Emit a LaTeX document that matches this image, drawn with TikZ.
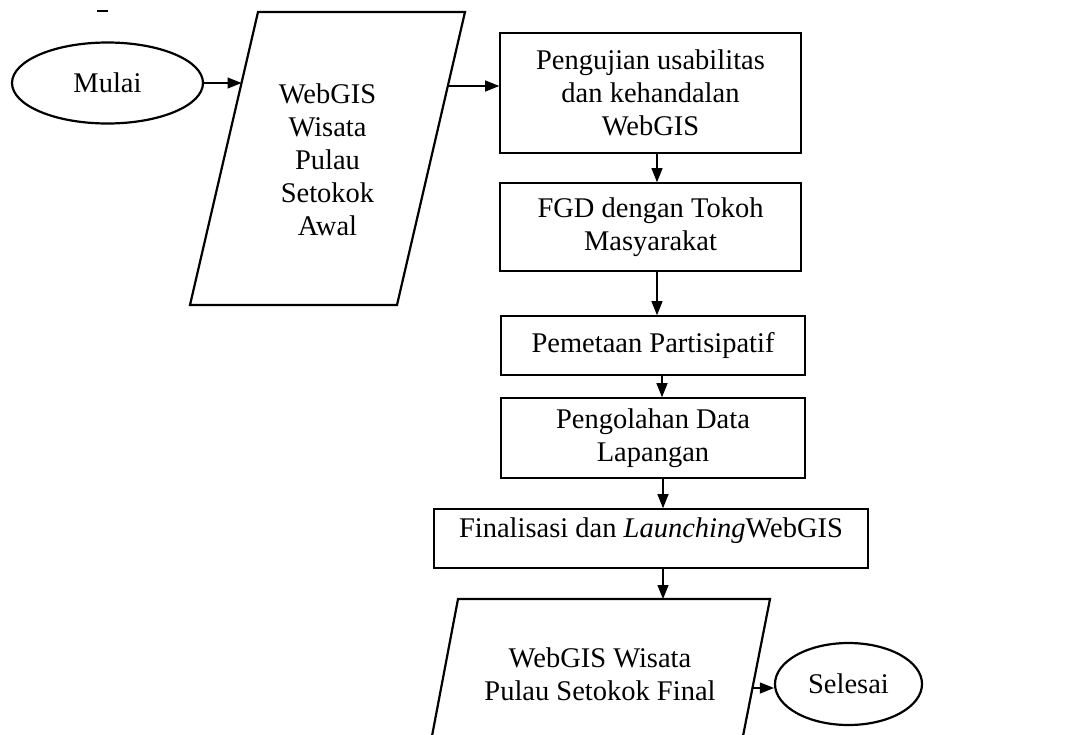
\documentclass[tikz,border=0pt]{standalone}
\usepackage{fontspec}
\setmainfont{Liberation Serif}
\usetikzlibrary{shapes.geometric,arrows.meta,calc}
\begin{document}
\begin{tikzpicture}[x=1pt,y=-1pt,
  txt/.style={font=\fontsize{28.5}{33}\selectfont, align=center, inner sep=0pt},
  procbox/.style={txt, draw, rectangle, line width=1.6pt},
  term/.style={txt, draw, ellipse, line width=2.2pt},
  io/.style={line width=2.2pt, line join=miter},
  arr/.style={line width=1.2pt, -{Triangle[length=14pt,width=11pt]}},
]
\useasboundingbox (0,0) rectangle (1065,734);
\fill[white] (0,0) rectangle (1065,734);
\draw[line width=2pt] (97,11) -- (108,11);

% start
\node[term, minimum width=191pt, minimum height=81pt] (mulai) at (107.5,83) {Mulai};

% input parallelogram
\draw[io] (258,12) -- (465,12) -- (397,305) -- (190,305) -- cycle;
\node[txt] (p1) at (327.5,160) {WebGIS\\Wisata\\Pulau\\Setokok\\Awal};
\coordinate (p1in) at (241.5,83);
\coordinate (p1out) at (448,86);

% process boxes
\node[procbox, minimum width=301pt, minimum height=120pt] (b1) at (650.5,93) {Pengujian usabilitas\\dan kehandalan\\WebGIS};
\node[procbox, minimum width=301pt, minimum height=88pt] (b2) at (650.5,227) {FGD dengan Tokoh\\Masyarakat};
\node[procbox, minimum width=304pt, minimum height=59pt] (b3) at (653,345.5) {Pemetaan Partisipatif};
\node[procbox, minimum width=304pt, minimum height=80pt] (b4) at (653,438) {Pengolahan Data\\Lapangan};
\node[procbox, minimum width=434pt, minimum height=59pt] (b5) at (651,538.5) {};
\node[txt] (b5t) at (651,531) {Finalisasi dan \textit{Launching}WebGIS};

% output parallelogram
\draw[io] (432,736) -- (458,599) -- (770,599) -- (743,736);
\node[txt] (p2) at (600,674) {WebGIS Wisata\\Pulau Setokok Final};
\coordinate (p2top) at (663,599);
\coordinate (p2out) at (752,688);

% end
\node[term, minimum width=147pt, minimum height=82pt] (selesai) at (848.5,684) {Selesai};

% connectors
\draw[arr] (mulai.east) -- (p1in);
\draw[arr] (p1out) -- (p1out -| b1.west);
\draw[arr] ([xshift=6.5pt]b1.south) -- ([xshift=6.5pt]b2.north);
\draw[arr] ([xshift=6.5pt]b2.south) -- ([xshift=4pt]b3.north);
\draw[arr] ([xshift=9pt]b3.south) -- ([xshift=9pt]b4.north);
\draw[arr] ([xshift=10pt]b4.south) -- ([xshift=12pt]b5.north);
\draw[arr] ([xshift=12pt]b5.south) -- (p2top);
\draw[arr] (p2out) -- (p2out -| selesai.west);
\end{tikzpicture}
\end{document}
